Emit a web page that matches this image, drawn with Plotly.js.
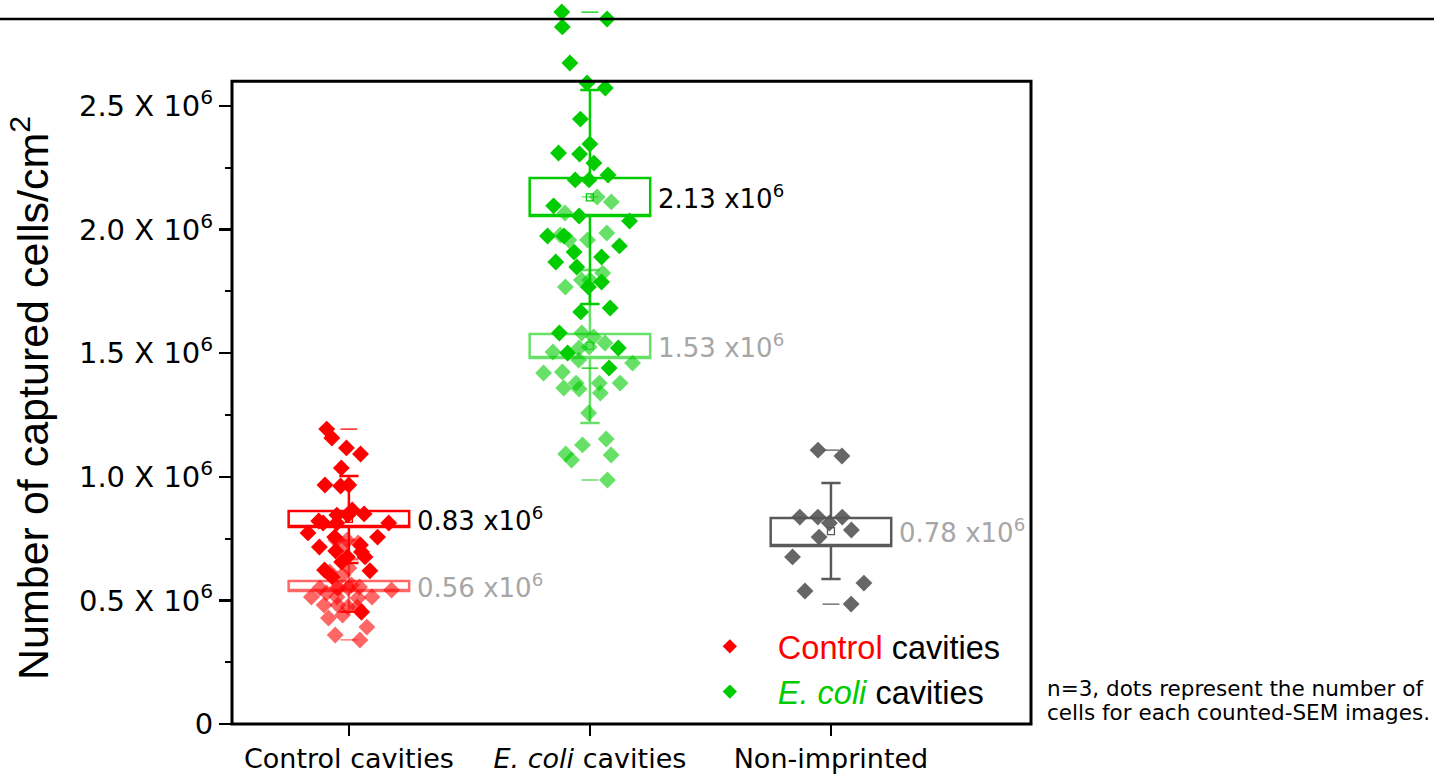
<!DOCTYPE html>
<html><head><meta charset="utf-8">
<script src="https://cdn.plot.ly/plotly-3.0.1.min.js"></script>
<style>html,body{margin:0;padding:0;background:#fff;}#chart{width:1434px;height:774px;}</style>
</head><body><div id="chart"></div>
<script>
// ---------- data (values in units of 10^6 cells/cm^2) ----------
const categories = ['Control cavities', '<i>E. coli</i> cavities', 'Non-imprinted'];
const yTickVals = [0, 0.5, 1.0, 1.5, 2.0, 2.5];
const yTickText = ['0', '0.5 X 10<sup>6</sup>', '1.0 X 10<sup>6</sup>', '1.5 X 10<sup>6</sup>', '2.0 X 10<sup>6</sup>', '2.5 X 10<sup>6</sup>'];
const yMinorTickVals = [0.25, 0.75, 1.25, 1.75, 2.25];

const controlCavities = [1.193, 1.157, 1.117, 1.092, 1.036, 0.963, 0.967, 0.967, 0.866, 0.845, 0.845, 0.821, 0.813, 0.813, 0.813, 0.756, 0.773, 0.756, 0.724, 0.716, 0.696, 0.676, 0.676, 0.655, 0.623, 0.595, 0.453, 0.850, 0.700, 0.620];
const controlCavitiesLight = [0.744, 0.732, 0.744, 0.724, 0.615, 0.603, 0.631, 0.550, 0.542, 0.550, 0.562, 0.550, 0.550, 0.554, 0.514, 0.530, 0.510, 0.514, 0.514, 0.481, 0.473, 0.473, 0.441, 0.429, 0.453, 0.392, 0.360, 0.340, 0.481];
const ecoliCavities = [2.880, 2.852, 2.820, 2.674, 2.593, 2.573, 2.447, 2.346, 2.306, 2.310, 2.269, 2.221, 2.201, 2.201, 2.096, 2.055, 2.035, 1.974, 1.974, 1.909, 1.934, 1.889, 1.869, 1.849, 1.788, 1.768, 1.683, 1.667, 1.582, 1.521, 1.501, 1.440];
const ecoliCavitiesLight = [2.132, 2.112, 2.067, 1.986, 1.978, 1.958, 1.958, 1.824, 1.796, 1.796, 1.768, 1.582, 1.566, 1.541, 1.525, 1.521, 1.505, 1.472, 1.460, 1.424, 1.420, 1.379, 1.379, 1.379, 1.359, 1.355, 1.339, 1.258, 1.153, 1.129, 1.092, 1.088, 1.068, 0.987];
const nonImprinted = [1.084, 1.108, 0.837, 0.837, 0.837, 0.813, 0.756, 0.785, 0.676, 0.570, 0.538, 0.485];

// summary statistics, order: control light, control, E. coli light, E. coli, non-imprinted
const seriesValues = [controlCavitiesLight, controlCavities, ecoliCavitiesLight, ecoliCavities, nonImprinted];
const seriesCategory = [0, 0, 1, 1, 2];
const means = [0.56, 0.83, 1.53, 2.13, 0.78];
const boxLow = [0.538, 0.797, 1.481, 2.055, 0.720];
const boxHigh = [0.578, 0.862, 1.578, 2.209, 0.833];
const whiskerLow = [0.454, 0.651, 1.218, 1.699, 0.587];
const whiskerHigh = [0.666, 1.003, 1.837, 2.565, 0.975];

const legendNames = ['<span style="color:#ff0000">Control</span> cavities', '<i><span style="color:#00cc00">E. coli</span></i> cavities'];
const noteLines = ['n=3, dots represent the number of', 'cells for each counted-SEM images.'];
const yTitle = 'Number of captured cells/cm<sup>2</sup>';

// ---------- styles ----------
const pointColors = ['#ff0000', '#ff0000', '#00cc00', '#00cc00', '#555555'];
const pointOpacity = [0.6, 1, 0.6, 1, 0.9];
const boxColors = ['rgba(255,0,0,0.6)', '#ff0000', 'rgba(0,204,0,0.6)', '#00cc00', '#5a5a5a'];
const labelColors = ['#a6a6a6', '#000000', '#a6a6a6', '#000000', '#a6a6a6'];
const legendColors = ['#ff0000', '#00cc00'];
const BOX_W = 0.5, CAP_W = 0.08, DASH_W = 0.07;
const PX_PER_UNIT = 247.2, PLOT_H = 724;
const yMax = PLOT_H / PX_PER_UNIT;
const FRAME_TOP = 2.6;
const SANS = 'DejaVu Sans, Verdana, sans-serif';
const ARIAL = 'Liberation Sans, Arial, sans-serif';

const traces = [];
// boxes (mean +/- SE) with whiskers (mean +/- SD), drawn under the points
seriesValues.forEach((vals, i) => {
  traces.push({
    type: 'box', x: [seriesCategory[i]],
    q1: [boxLow[i]], median: [boxLow[i]], q3: [boxHigh[i]],
    lowerfence: [whiskerLow[i]], upperfence: [whiskerHigh[i]],
    width: BOX_W, whiskerwidth: CAP_W / BOX_W, boxpoints: false,
    fillcolor: 'rgba(0,0,0,0)', line: {color: boxColors[i], width: 2.5},
    showlegend: false, hoverinfo: 'skip'
  });
});
// min / max dashes
seriesValues.forEach((vals, i) => {
  const lo = Math.min(...vals), hi = Math.max(...vals);
  traces.push({
    type: 'box', x: [seriesCategory[i], seriesCategory[i]],
    q1: [lo, hi], median: [lo, hi], q3: [lo, hi], lowerfence: [lo, hi], upperfence: [lo, hi],
    width: DASH_W, whiskerwidth: 0, boxpoints: false,
    fillcolor: 'rgba(0,0,0,0)', line: {color: boxColors[i], width: 1.3},
    showlegend: false, hoverinfo: 'skip'
  });
});
// jittered points (library jitter)
seriesValues.forEach((vals, i) => {
  traces.push({
    type: 'box', x: vals.map(() => seriesCategory[i]), y: vals,
    boxpoints: 'all', jitter: 0.8, pointpos: 0, width: BOX_W,
    fillcolor: 'rgba(0,0,0,0)', line: {width: 0, color: 'rgba(0,0,0,0)'}, whiskerwidth: 0,
    marker: {symbol: 'diamond', size: 13, color: pointColors[i], opacity: pointOpacity[i], line: {width: 0}},
    showlegend: false, hoverinfo: 'y'
  });
});
// mean markers
traces.push({
  type: 'scatter', mode: 'markers', hoverinfo: 'skip', showlegend: false,
  x: seriesCategory, y: means,
  marker: {symbol: 'square-open', size: 7, color: boxColors, line: {width: 1.3}}
});
// legend entries
legendNames.forEach((n, i) => {
  traces.push({type: 'scatter', mode: 'markers', x: [null], y: [null], name: n,
    marker: {symbol: 'diamond', size: 11, color: legendColors[i]}});
});

const annotations = means.map((m, i) => ({
  xref: 'x', yref: 'y', x: seriesCategory[i] + BOX_W / 2, y: m, xanchor: 'left', yanchor: 'middle', xshift: 6,
  text: m.toFixed(2) + ' x10<sup>6</sup>', showarrow: false,
  font: {family: SANS, size: 26, color: labelColors[i]}
}));
annotations.push({
  xref: 'paper', yref: 'paper', x: (30 - 232) / 799, y: (724 - 398) / 724, xanchor: 'center', yanchor: 'middle',
  textangle: -90, text: yTitle, showarrow: false, font: {family: ARIAL, size: 43, color: '#000'}
});
noteLines.forEach((t, k) => {
  annotations.push({
    xref: 'paper', yref: 'paper', x: (1045 - 232) / 799, y: (724 - (688 + 24 * k)) / 724, xanchor: 'left', yanchor: 'middle',
    align: 'left', text: t, showarrow: false, font: {family: SANS, size: 21.5, color: '#000'}
  });
});

const layout = {
  width: 1434, height: 774,
  margin: {l: 232, r: 403, t: 0, b: 50, pad: 0},
  paper_bgcolor: '#ffffff', plot_bgcolor: '#ffffff',
  boxmode: 'overlay',
  showlegend: true,
  legend: {x: 0.563, y: 0.1454, xanchor: 'left', yanchor: 'top', bgcolor: 'rgba(0,0,0,0)',
    font: {family: ARIAL, size: 32.5, color: '#000'}, itemwidth: 86, tracegroupgap: 0},
  xaxis: {type: 'linear', range: [-0.485, 2.83], tickvals: [0, 1, 2], ticktext: categories,
    ticks: 'outside', ticklen: 11, tickwidth: 2.5, tickcolor: '#000',
    showline: false, showgrid: false, zeroline: false,
    tickfont: {family: SANS, size: 27, color: '#000'}},
  yaxis: {type: 'linear', range: [0, yMax], tickvals: yTickVals, ticktext: yTickText,
    ticks: 'outside', ticklen: 12, tickwidth: 2.5, tickcolor: '#000',
    minor: {tickmode: 'array', tickvals: yMinorTickVals, ticks: 'outside', ticklen: 6, tickwidth: 2, tickcolor: '#000', showgrid: false},
    showline: false, showgrid: false, zeroline: false,
    tickfont: {family: SANS, size: 29, color: '#000'}},
  shapes: [
    {type: 'rect', xref: 'paper', yref: 'paper', x0: 0, x1: 1, y0: 0, y1: FRAME_TOP / yMax,
      line: {color: '#000', width: 3}, fillcolor: 'rgba(0,0,0,0)', layer: 'above'},
    {type: 'line', xref: 'paper', yref: 'paper', x0: -0.3, x1: 1.51, y0: (724 - 19) / 724, y1: (724 - 19) / 724,
      line: {color: '#000', width: 2.5}, layer: 'above'}
  ],
  annotations: annotations
};

Plotly.newPlot('chart', traces, layout, {displayModeBar: false, staticPlot: true});
</script>
</body></html>
